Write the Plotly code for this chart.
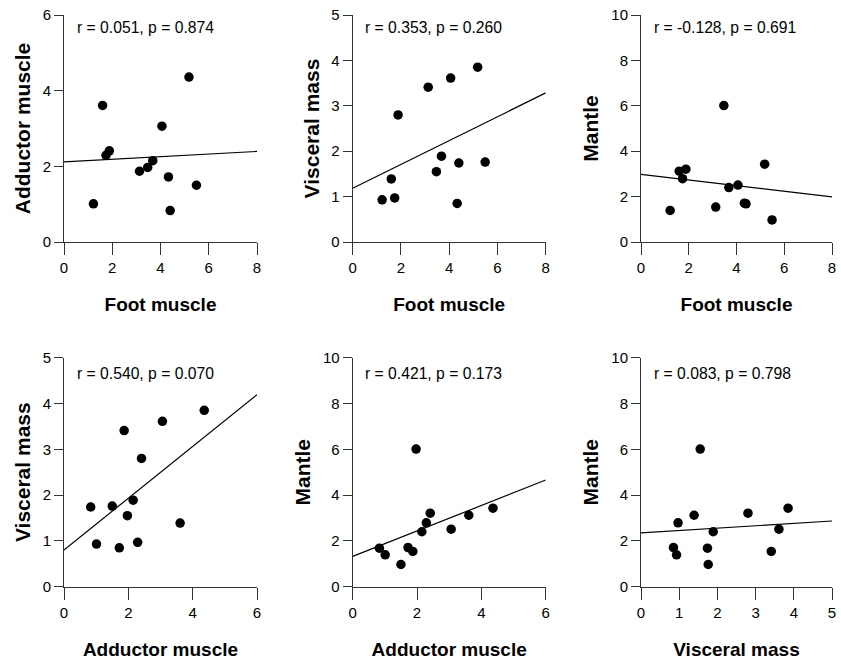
import numpy as np
import plotly.graph_objects as go

# ---- data: 12 samples, tissue values ----
foot_muscle     = [1.22, 1.60, 1.74, 1.88, 3.13, 3.47, 3.68, 4.06, 4.33, 4.40, 5.18, 5.49]
adductor_muscle = [1.01, 3.61, 2.29, 2.41, 1.87, 1.97, 2.15, 3.06, 1.72, 0.83, 4.36, 1.50]
visceral_mass   = [0.93, 1.39, 0.97, 2.80, 3.41, 1.55, 1.89, 3.61, 0.85, 1.74, 3.85, 1.76]
mantle          = [1.39, 3.12, 2.79, 3.21, 1.54, 6.01, 2.40, 2.51, 1.71, 1.68, 3.43, 0.97]

stats_text = [
    "r = 0.051, p = 0.874",
    "r = 0.353, p = 0.260",
    "r = -0.128, p = 0.691",
    "r = 0.540, p = 0.070",
    "r = 0.421, p = 0.173",
    "r = 0.083, p = 0.798",
]

tissues = {
    "Foot muscle": foot_muscle,
    "Adductor muscle": adductor_muscle,
    "Visceral mass": visceral_mass,
    "Mantle": mantle,
}
pairs = [
    ("Foot muscle", "Adductor muscle"),
    ("Foot muscle", "Visceral mass"),
    ("Foot muscle", "Mantle"),
    ("Adductor muscle", "Visceral mass"),
    ("Adductor muscle", "Mantle"),
    ("Visceral mass", "Mantle"),
]
x_max = [8, 8, 8, 6, 6, 5]
x_dtick = [2, 2, 2, 2, 2, 1]
y_max = [6, 5, 10, 5, 10, 10]
y_dtick = [2, 1, 2, 1, 2, 2]

# ---- layout geometry (pixels) ----
W, H = 841, 663
col_px = [(64, 257), (352.7, 545.7), (641, 832)]
row_px = [(15, 242), (357.7, 586.7)]
ann_off = [12, 16]

fig = go.Figure()
FONT = "Arial, Liberation Sans, sans-serif"
AXC = "#333333"

for i, (xn, yn) in enumerate(pairs):
    r, c = divmod(i, 3)
    idx = "" if i == 0 else str(i + 1)
    xa, ya = "x" + idx, "y" + idx
    xv = np.array(tissues[xn])
    yv = np.array(tissues[yn])

    fig.add_trace(go.Scatter(
        x=xv, y=yv, mode="markers", xaxis=xa, yaxis=ya,
        marker=dict(color="black", size=9.5, line=dict(width=0)),
        showlegend=False, hoverinfo="x+y"))

    slope, icpt = np.polyfit(xv, yv, 1)
    lx = np.array([0, x_max[i]])
    fig.add_trace(go.Scatter(
        x=lx, y=slope * lx + icpt, mode="lines", xaxis=xa, yaxis=ya,
        line=dict(color="black", width=1.2), showlegend=False, hoverinfo="skip"))

    x0, x1 = col_px[c]
    yt, yb = row_px[r]
    fig.layout["xaxis" + idx] = dict(
        domain=[x0 / W, x1 / W], anchor=ya, range=[0, x_max[i]], dtick=x_dtick[i],
        showgrid=False, zeroline=False, showline=True, linecolor=AXC, linewidth=1,
        ticks="outside", ticklen=12, tickwidth=1, tickcolor=AXC,
        tickfont=dict(family=FONT, size=15, color="black"),
        title=dict(text=xn, font=dict(family=FONT, size=19, color="black"), standoff=22),
    )
    fig.layout["yaxis" + idx] = dict(
        domain=[(H - yb) / H, (H - yt) / H], anchor=xa, range=[0, y_max[i]], dtick=y_dtick[i],
        showgrid=False, zeroline=False, showline=True, linecolor=AXC, linewidth=1,
        ticks="outside", ticklen=9, tickwidth=1, tickcolor=AXC,
        tickfont=dict(family=FONT, size=15, color="black"),
        title=dict(text=yn, font=dict(family=FONT, size=21, color="black"), standoff=6),
    )
    fig.add_annotation(
        text=stats_text[i], xref=xa + " domain", yref=ya + " domain",
        x=10.5 / (x1 - x0), y=1 - ann_off[r] / (yb - yt),
        xanchor="left", yanchor="middle", showarrow=False,
        font=dict(family=FONT, size=15.7, color="black"))

fig.update_layout(
    width=W, height=H, margin=dict(l=0, r=0, t=0, b=0),
    paper_bgcolor="white", plot_bgcolor="white",
    font=dict(family=FONT, color="black"),
)
for k in fig.layout:
    if k.startswith("xaxis") or k.startswith("yaxis"):
        fig.layout[k].title.font.weight = "bold"
        fig.layout[k].automargin = False

fig.write_html("out.html", config={"displayModeBar": False},
               post_script="document.body.style.margin='0';")
